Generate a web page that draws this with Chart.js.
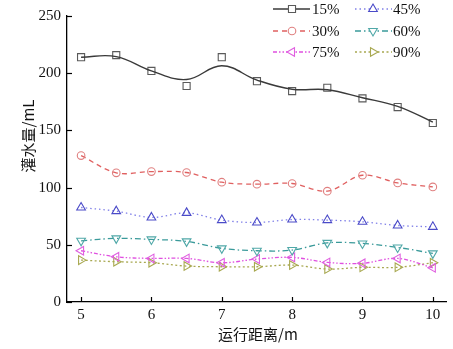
<!DOCTYPE html>
<html><head><meta charset="utf-8">
<script src="https://cdn.jsdelivr.net/npm/chart.js@4.4.0/dist/chart.umd.min.js"></script>
<style>html,body{margin:0;padding:0;background:#fff;}#wrap{width:453px;height:349px;}</style>
</head><body><div id="wrap"><canvas id="c" width="453" height="349"></canvas></div>
<script>
// ---- data ----
const distances = [5, 5.5, 6, 6.5, 7, 7.5, 8, 8.5, 9, 9.5, 10];
const s15 = [214, 215.8, 202, 188.8, 214, 193, 184.4, 187.3, 178, 170.4, 156.5];
const s15Fit = [214, 214.5, 202, 194.5, 206.5, 194, 186, 185.5, 178.5, 171, 157.3];
const s30 = [128, 112.9, 114, 113.2, 104.7, 103, 103.6, 96.9, 110.8, 104.1, 100.6];
const s45 = [82.6, 79.4, 73.9, 77.9, 71.6, 69.5, 72.1, 71.6, 70.1, 66.9, 65.7];
const s60 = [53.5, 55.6, 54.7, 53, 46.9, 44.8, 45.4, 51.7, 51.2, 47.7, 42.5];
const s75 = [44.8, 39.5, 38.1, 38.1, 34.3, 37.5, 39, 34.6, 33.8, 38.1, 29.9];
const s90 = [36.6, 35.2, 34.3, 31.4, 30.8, 30.8, 32.3, 28.8, 30.3, 30.3, 34.3];
const seriesNames = ['15%', '30%', '45%', '60%', '75%', '90%'];
const xTicks = [5, 6, 7, 8, 9, 10];
const yTicks = [0, 50, 100, 150, 200, 250];
const xTitle = '运行距离/m';
const yTitle = '灌水量/mL';

const toXY = arr => arr.map((v, i) => ({x: distances[i], y: v}));

const styles = {
  '15%': {line: '#3a3a3a', mark: '#5a5a5a', dash: [], style: 'rect', rot: 0, r: 5},
  '30%': {line: '#e06060', mark: '#e08080', dash: [5, 4], style: 'circle', rot: 0, r: 3.8},
  '45%': {line: '#8080e8', mark: '#4a4ac8', dash: [1.5, 3], style: 'triangle', rot: 0, r: 5},
  '60%': {line: '#3a9a9a', mark: '#50a8a8', dash: [6, 3, 1.5, 3], style: 'triangle', rot: 180, r: 5},
  '75%': {line: '#e050e0', mark: '#e060e0', dash: [4, 2, 1.5, 2, 1.5, 2], style: 'triangle', rot: -90, r: 5},
  '90%': {line: '#a8a850', mark: '#a8a850', dash: [2, 2.5], style: 'triangle', rot: 90, r: 5}
};
const vals = {'30%': s30, '45%': s45, '60%': s60, '75%': s75, '90%': s90};

const datasets = [];
datasets.push({label: '15% fit', data: toXY(s15Fit), borderColor: styles['15%'].line, borderWidth: 1.4,
  pointRadius: 0, tension: 0.4, fill: false});
datasets.push({label: '15%', data: toXY(s15), showLine: false, pointStyle: 'rect', pointRadius: 5,
  pointBorderColor: styles['15%'].mark, pointBackgroundColor: '#fff', pointBorderWidth: 1.1});
['30%', '45%', '60%', '75%', '90%'].forEach(n => {
  const s = styles[n];
  datasets.push({label: n, data: toXY(vals[n]), borderColor: s.line, borderWidth: 1.3, borderDash: s.dash,
    tension: 0.35, fill: false, pointStyle: s.style, pointRotation: s.rot, pointRadius: s.r,
    pointBorderColor: s.mark, pointBackgroundColor: 'rgba(255,255,255,0)', pointBorderWidth: 1.1});
});

function drawMarker(ctx, style, x, y, r, rot) {
  ctx.beginPath();
  if (style === 'circle') {
    ctx.arc(x, y, r, 0, Math.PI * 2);
  } else if (style === 'rect') {
    const h = r * Math.SQRT1_2;
    ctx.rect(x - h, y - h, 2 * h, 2 * h);
  } else {
    let a = rot * Math.PI / 180;
    for (let k = 0; k < 3; k++) {
      const px = x + Math.sin(a) * r, py = y - Math.cos(a) * r;
      if (k === 0) ctx.moveTo(px, py); else ctx.lineTo(px, py);
      a += 2 * Math.PI / 3;
    }
    ctx.closePath();
  }
  ctx.fillStyle = '#fff';
  ctx.fill();
  ctx.stroke();
}

const custom = {
  id: 'custom',
  afterDraw(chart) {
    const ctx = chart.ctx, xs = chart.scales.x, ys = chart.scales.y;
    ctx.save();
    ctx.strokeStyle = '#000';
    ctx.lineWidth = 1.2;
    xTicks.forEach(v => {
      const px = Math.round(xs.getPixelForValue(v)) + 0.5;
      ctx.beginPath(); ctx.moveTo(px, ys.bottom); ctx.lineTo(px, ys.bottom - 5); ctx.stroke();
    });
    yTicks.forEach(v => {
      const py = Math.round(ys.getPixelForValue(v)) + 0.5;
      ctx.beginPath(); ctx.moveTo(xs.left, py); ctx.lineTo(xs.left + 5, py); ctx.stroke();
    });
    // axis titles
    ctx.fillStyle = '#111';
    ctx.font = '15px "Noto Sans CJK SC", "Liberation Serif", serif';
    ctx.textAlign = 'center'; ctx.textBaseline = 'middle';
    ctx.fillText(xTitle, (xs.left + xs.right) / 2 + 1, 334);
    ctx.save();
    ctx.translate(28, 136);
    ctx.rotate(-Math.PI / 2);
    ctx.fillText(yTitle, 0, 0);
    ctx.restore();
    // legend
    const cols = [{l0: 273, l1: 310, m: 292, t: 312}, {l0: 355, l1: 392, m: 373, t: 393}];
    const rows = [9, 31, 52];
    const order = ['15%', '45%', '30%', '60%', '75%', '90%'];
    ctx.font = '15px "Liberation Serif", serif';
    ctx.textAlign = 'left';
    order.forEach((n, i) => {
      const c = cols[i % 2], y = rows[Math.floor(i / 2)], s = styles[n];
      ctx.strokeStyle = s.line; ctx.lineWidth = n === '15%' ? 1.4 : 1.3;
      ctx.setLineDash(s.dash);
      ctx.beginPath(); ctx.moveTo(c.l0, y); ctx.lineTo(c.l1, y); ctx.stroke();
      ctx.setLineDash([]);
      ctx.strokeStyle = s.mark; ctx.lineWidth = 1.1;
      drawMarker(ctx, s.style, c.m, y, s.r, s.rot);
      ctx.fillStyle = '#111';
      ctx.fillText(n, c.t, y + 1);
    });
    ctx.restore();
  }
};

new Chart(document.getElementById('c'), {
  type: 'line',
  data: {datasets},
  plugins: [custom],
  options: {
    responsive: false,
    animation: false,
    layout: {padding: {top: 16, right: 5, left: 0, bottom: 0}},
    plugins: {legend: {display: false}, tooltip: {enabled: false}},
    scales: {
      x: {
        type: 'linear', min: 4.8, max: 10.2,
        afterBuildTicks: s => { s.ticks = xTicks.map(v => ({value: v})); },
        afterFit: s => { s.height = 47; },
        grid: {display: true, drawOnChartArea: false, drawTicks: false},
        border: {display: true, color: '#000', width: 1.3},
        ticks: {padding: 4, color: '#111', font: {family: '"Liberation Serif", serif', size: 15}}
      },
      y: {
        type: 'linear', min: 0, max: 250,
        afterBuildTicks: s => { s.ticks = yTicks.map(v => ({value: v})); },
        afterFit: s => { s.width = 67; },
        grid: {display: true, drawOnChartArea: false, drawTicks: false},
        border: {display: true, color: '#000', width: 1.3},
        ticks: {padding: 6, color: '#111', font: {family: '"Liberation Serif", serif', size: 15}}
      }
    }
  }
});
</script></body></html>
